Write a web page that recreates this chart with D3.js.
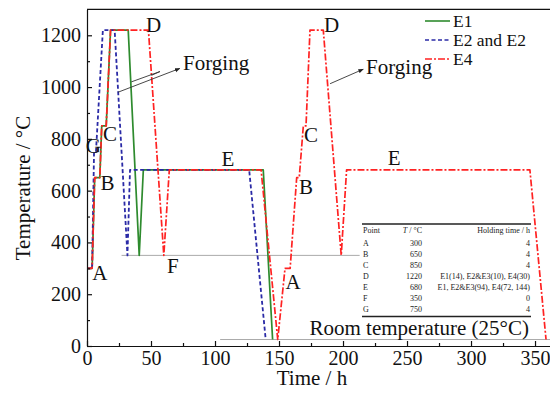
<!DOCTYPE html>
<html><head><meta charset="utf-8">
<script src="https://cdn.jsdelivr.net/npm/d3@7"></script>
<style>body{margin:0;background:#fff}svg{display:block}svg text{font-family:'Liberation Serif','Times New Roman',Times,'DejaVu Serif',serif !important}</style>
</head><body><svg id="c" width="550" height="398"></svg>
<script>
// ---- data ----
const timeE1 = [0,4,6,10,11.5,15,18.4,32.2,40.8,44,137.7,145];
const tempE1 = [300,300,650,650,850,850,1220,1220,350,680,680,25];
const timeE2 = [0,4,5.5,7,12.4,21.6,31.6,33.6,126.7,139.6];
const tempE2 = [300,300,750,750,1220,1220,350,680,680,25];
const timeE4 = [0,4,6,10,11.5,15,18.4,48,60,64.3,136,149,154.7,158.7,163.8,165.8,169,171.1,174.2,184.6,198.6,202.8,346,358.6];
const tempE4 = [300,300,650,650,850,850,1220,1220,350,680,680,25,300,300,650,650,850,850,1220,1220,350,680,680,25];
const seriesNames = ["E1","E2 and E2","E4"];
const xTicks = [0,50,100,150,200,250,300,350];
const xMinor = [25,75,125,175,225,275,325];
const yTicks = [0,200,400,600,800,1000,1200];
const yMinor = [100,300,500,700,900,1100];
const pointLabels = [
  {t:"D",x:52,y:1240},{t:"C",x:18,y:820},{t:"G",x:5,y:775},{t:"B",x:16,y:630},{t:"A",x:10,y:285},
  {t:"F",x:67,y:310},{t:"E",x:110,y:725},{t:"E",x:240,y:728},
  {t:"D",x:191,y:1240},{t:"C",x:175,y:815},{t:"B",x:171,y:615},{t:"A",x:161,y:250}
];
const tableHead = ["Point","T / °C","Holding time / h"];
const tablePoints = ["A","B","C","D","E","F","G"];
const tableTemps = ["300","650","850","1220","680","350","750"];
const tableHold = ["4","4","4","E1(14), E2&E3(10), E4(30)","E1, E2&E3(94), E4(72, 144)","0","4"];

const FONT = "'Liberation Serif','Times New Roman',Times,'DejaVu Serif',serif";
const svg = d3.select("#c").attr("font-family",FONT);
const x = d3.scaleLinear().domain([0,361.7]).range([87,550]);
const y = d3.scaleLinear().domain([0,1300]).range([346,9.4]);

svg.append("defs").append("marker").attr("id","arr").attr("viewBox","0 0 10 10")
  .attr("refX",9).attr("refY",5).attr("markerWidth",6).attr("markerHeight",6).attr("orient","auto")
  .append("path").attr("d","M0,1 L10,5 L0,9 Z").attr("fill","#222");

// reference lines
svg.append("line").attr("x1",x(27)).attr("x2",x(213)).attr("y1",y(350)).attr("y2",y(350))
  .attr("stroke","#aaa").attr("stroke-width",1);
svg.append("line").attr("x1",x(104)).attr("x2",550).attr("y1",y(25)).attr("y2",y(25))
  .attr("stroke","#aaa").attr("stroke-width",1);

const line = d3.line().x(d=>x(d[0])).y(d=>y(d[1]));
const mk = (ts,vs)=>ts.map((t,i)=>[t,vs[i]]);
const styles = [
  {c:"#2e8b2e",w:1.7,dash:null},
  {c:"#2a2aa6",w:1.8,dash:"4,2.5"},
  {c:"#ff2222",w:1.7,dash:"7,2,2,2"}
];
const data = [mk(timeE1,tempE1),mk(timeE2,tempE2),mk(timeE4,tempE4)];
data.forEach((d,i)=>{
  svg.append("path").attr("d",line(d)).attr("fill","none").attr("stroke",styles[i].c)
    .attr("stroke-width",styles[i].w).attr("stroke-dasharray",styles[i].dash).attr("stroke-linejoin","round");
});

// axes
const gx = svg.append("g").attr("transform","translate(0,346)");
gx.call(d3.axisBottom(x).tickValues(xTicks).tickSize(-5).tickPadding(5).tickSizeOuter(0).tickFormat(d3.format("d")));
svg.append("g").attr("transform","translate(0,346)")
  .call(d3.axisBottom(x).tickValues(xMinor).tickSize(-3).tickFormat("").tickSizeOuter(0))
  .select(".domain").remove();
const gy = svg.append("g").attr("transform","translate(87,0)");
gy.call(d3.axisLeft(y).tickValues(yTicks).tickSize(-5).tickPadding(6).tickSizeOuter(0).tickFormat(d3.format("d")));
svg.append("g").attr("transform","translate(87,0)")
  .call(d3.axisLeft(y).tickValues(yMinor).tickSize(-3).tickFormat("").tickSizeOuter(0))
  .select(".domain").remove();
svg.selectAll("g").attr("font-family",FONT);
svg.selectAll(".tick text").attr("font-size",20).attr("fill","#111");
svg.selectAll(".domain,.tick line").attr("stroke","#111").attr("stroke-width",1.2);
svg.append("line").attr("x1",87).attr("x2",550).attr("y1",y(1300)).attr("y2",y(1300)).attr("stroke","#111").attr("stroke-width",1.2);

// axis titles
svg.append("text").attr("x",312).attr("y",385).attr("text-anchor","middle").attr("font-size",21).attr("fill","#111").text("Time / h");
svg.append("text").attr("transform","translate(30,188) rotate(-90)").attr("text-anchor","middle").attr("font-size",21).attr("fill","#111").text("Temperature / °C");

// point labels
pointLabels.forEach(p=>{
  svg.append("text").attr("x",x(p.x)).attr("y",y(p.y)).attr("dy","0.35em").attr("text-anchor","middle")
    .attr("font-size",21).attr("fill","#111").text(p.t);
});

// forging annotations
const ann = svg.append("g").attr("stroke","#333").attr("stroke-width",0.9).attr("fill","none");
const hub = [57,1060];
ann.append("line").attr("x1",x(24.2)).attr("y1",y(980)).attr("x2",x(72.5)).attr("y2",y(1072)).attr("marker-end","url(#arr)");
ann.append("line").attr("x1",x(34.6)).attr("y1",y(1020)).attr("x2",x(hub[0])).attr("y2",y(hub[1]));
ann.append("line").attr("x1",x(50.3)).attr("y1",y(1045)).attr("x2",x(hub[0])).attr("y2",y(hub[1]));
ann.append("line").attr("x1",x(189.9)).attr("y1",y(1013)).attr("x2",x(215.8)).attr("y2",y(1069)).attr("marker-end","url(#arr)");
svg.append("text").attr("x",183).attr("y",70).attr("font-size",21).attr("fill","#111").text("Forging");
svg.append("text").attr("x",366).attr("y",74).attr("font-size",21).attr("fill","#111").text("Forging");

// legend
const ly = [21,40,59];
seriesNames.forEach((n,i)=>{
  svg.append("line").attr("x1",425).attr("x2",450).attr("y1",ly[i]).attr("y2",ly[i])
    .attr("stroke",styles[i].c).attr("stroke-width",1.6).attr("stroke-dasharray",styles[i].dash);
  svg.append("text").attr("x",453).attr("y",ly[i]).attr("dy","0.33em").attr("font-size",17.5).attr("fill","#111").text(n);
});

// table
const tb = svg.append("g").attr("font-size",8).attr("fill","#222");
tb.append("line").attr("x1",362).attr("x2",531).attr("y1",224).attr("y2",224).attr("stroke","#222").attr("stroke-width",1.3);
tb.append("line").attr("x1",362).attr("x2",531).attr("y1",316.5).attr("y2",316.5).attr("stroke","#222").attr("stroke-width",1.3);
tb.append("text").attr("x",363).attr("y",230).attr("dy","0.35em").text(tableHead[0]);
const th = tb.append("text").attr("x",422).attr("y",230).attr("dy","0.35em").attr("text-anchor","end");
th.append("tspan").attr("font-style","italic").text("T");
th.append("tspan").text(" / °C");
tb.append("text").attr("x",530).attr("y",230).attr("dy","0.35em").attr("text-anchor","end").text(tableHead[2]);
tablePoints.forEach((p,i)=>{
  const cy = 243 + i*11;
  tb.append("text").attr("x",363).attr("y",cy).attr("dy","0.35em").text(p);
  tb.append("text").attr("x",422).attr("y",cy).attr("dy","0.35em").attr("text-anchor","end").text(tableTemps[i]);
  tb.append("text").attr("x",530).attr("y",cy).attr("dy","0.35em").attr("text-anchor","end").text(tableHold[i]);
});

svg.append("text").attr("x",529).attr("y",335).attr("text-anchor","end").attr("font-size",21).attr("fill","#111").text("Room temperature (25°C)");
</script></body></html>
